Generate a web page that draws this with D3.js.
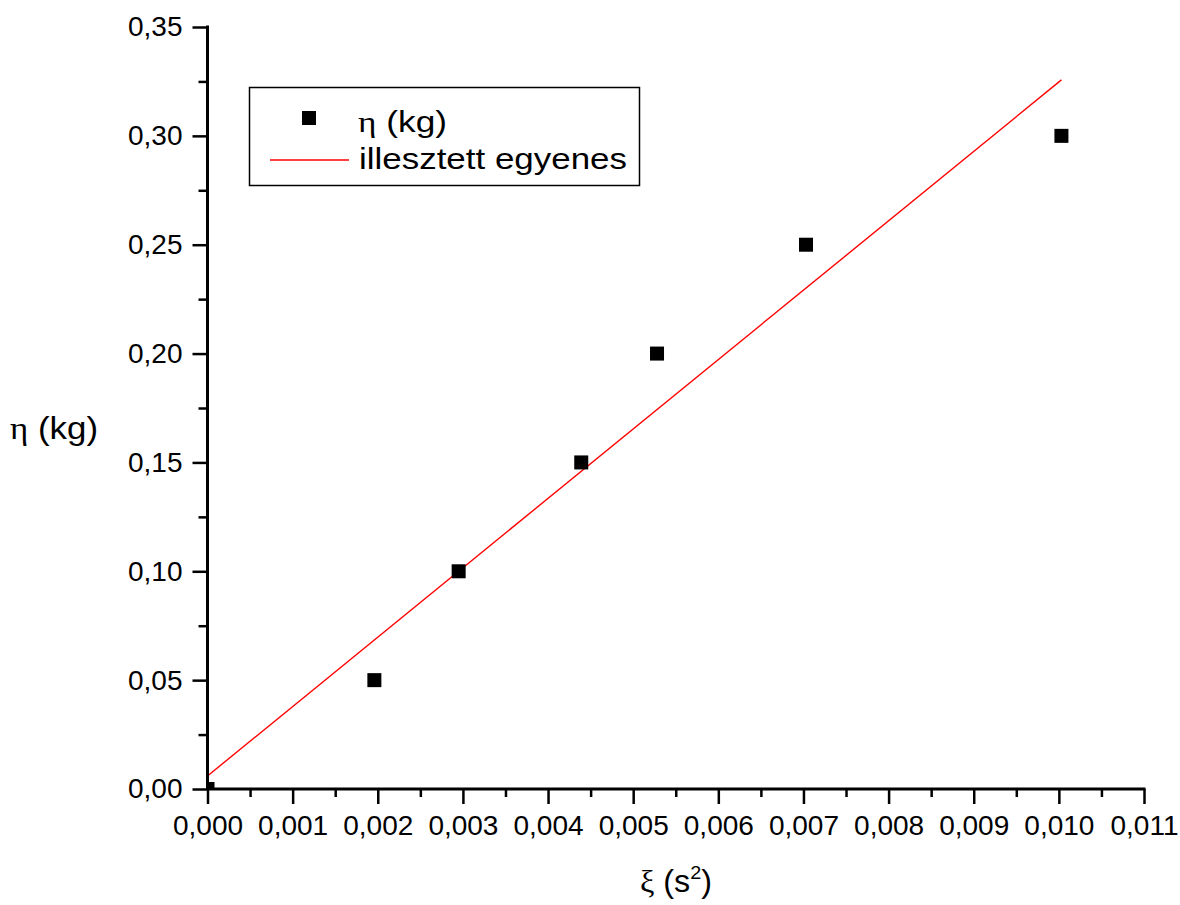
<!DOCTYPE html>
<html><head><meta charset="utf-8">
<script src="https://cdn.jsdelivr.net/npm/d3@7"></script>
<style>
body{margin:0;background:#fff;}
svg{display:block;font-family:"Liberation Sans",Arial,sans-serif;}
</style></head>
<body>
<svg id="chart" width="1180" height="905"></svg>
<script>
// Data
const xiValues  = [0, 0.00196, 0.00295, 0.00439, 0.00528, 0.00703, 0.01003];
const etaValues = [0, 0.05, 0.10, 0.15, 0.20, 0.25, 0.30];
const fitX = [0, 0.01003];
const fitY = [0.006, 0.3257];
const xMajorTicks = [0,0.001,0.002,0.003,0.004,0.005,0.006,0.007,0.008,0.009,0.010,0.011];
const yMajorTicks = [0,0.05,0.10,0.15,0.20,0.25,0.30,0.35];
const legendLabels = ["\u03b7 (kg)", "illesztett egyenes"];

const svg = d3.select("#chart");
const L = 207.5, R = 1144, T = 27, B = 789;
const x = d3.scaleLinear().domain([0, 0.011]).range([L, R]);
const y = d3.scaleLinear().domain([0, 0.35]).range([B, T]);
const fmtX = v => d3.format(".3f")(v).replace(".", ",");
const fmtY = v => d3.format(".2f")(v).replace(".", ",");

// clip
svg.append("defs").append("clipPath").attr("id","clip")
  .append("rect").attr("x",L).attr("y",T).attr("width",R-L).attr("height",B-T);

const plot = svg.append("g").attr("clip-path","url(#clip)");

// fit line
plot.append("line")
  .attr("x1", x(fitX[0])).attr("y1", y(fitY[0]))
  .attr("x2", x(fitX[1])).attr("y2", y(fitY[1]))
  .attr("stroke", "#ff0000").attr("stroke-width", 1.4);

// points
const S = 14;
plot.selectAll("rect.pt").data(xiValues.map((v,i)=>[v, etaValues[i]])).enter()
  .append("rect").attr("class","pt")
  .attr("x", d => x(d[0]) - S/2).attr("y", d => y(d[1]) - S/2)
  .attr("width", S).attr("height", S).attr("fill", "#000");

// axes
const xMinor = d3.range(0.0005, 0.011, 0.001);
const yMinor = d3.range(0.025, 0.35, 0.05);

const xAxis = d3.axisBottom(x).tickValues(xMajorTicks).tickFormat(fmtX).tickSize(15).tickPadding(11);
const gx = svg.append("g").attr("transform", `translate(0,${B})`).call(xAxis);
gx.selectAll(".tick line").attr("stroke-width", 2.5);
gx.select(".domain").attr("stroke-width", 3).attr("d", `M${L-1},0H${R+1.5}`);
gx.selectAll("text").attr("font-size", 28).attr("fill", "#000").attr("font-family", "Liberation Sans, Arial, sans-serif");
const gxm = svg.append("g").attr("transform", `translate(0,${B})`)
  .call(d3.axisBottom(x).tickValues(xMinor).tickFormat("").tickSize(8));
gxm.select(".domain").remove();
gxm.selectAll(".tick line").attr("stroke-width", 2.5);

const yAxis = d3.axisLeft(y).tickValues(yMajorTicks).tickFormat(fmtY).tickSize(15).tickPadding(10);
const gy = svg.append("g").attr("transform", `translate(${L},0)`).call(yAxis);
gy.selectAll(".tick line").attr("stroke-width", 2.5);
gy.select(".domain").attr("stroke-width", 3).attr("d", `M0,${T-1.5}V${B+1}`);
gy.selectAll("text").attr("font-size", 28).attr("fill", "#000").attr("font-family", "Liberation Sans, Arial, sans-serif");
const gym = svg.append("g").attr("transform", `translate(${L},0)`)
  .call(d3.axisLeft(y).tickValues(yMinor).tickFormat("").tickSize(9));
gym.select(".domain").remove();
gym.selectAll(".tick line").attr("stroke-width", 2.5);

// axis titles
const xt = svg.append("text").attr("x", 640).attr("y", 892).attr("font-size", 31)
  .attr("textLength", 72).attr("lengthAdjust", "spacingAndGlyphs");
xt.append("tspan").attr("font-family", "Liberation Serif, serif").text("\u03be");
xt.append("tspan").text(" (s");
xt.append("tspan").attr("font-size", 19).attr("dy", -13).text("2");
xt.append("tspan").attr("dy", 13).text(")");

const yt = svg.append("text").attr("x", 10).attr("y", 439).attr("font-size", 32)
  .attr("textLength", 88).attr("lengthAdjust", "spacingAndGlyphs");
yt.append("tspan").attr("font-family", "Liberation Serif, serif").text("\u03b7");
yt.append("tspan").text(" (kg)");

// legend
const lg = svg.append("g");
lg.append("rect").attr("x", 249.5).attr("y", 87.5).attr("width", 390).attr("height", 98)
  .attr("fill", "#fff").attr("stroke", "#000").attr("stroke-width", 1.5);
lg.append("rect").attr("x", 309 - S/2).attr("y", 118 - S/2).attr("width", S).attr("height", S).attr("fill", "#000");
const l1 = lg.append("text").attr("x", 358).attr("y", 132).attr("font-size", 30)
  .attr("textLength", 89).attr("lengthAdjust", "spacingAndGlyphs");
l1.append("tspan").attr("font-family", "Liberation Serif, serif").text(legendLabels[0].slice(0,1));
l1.append("tspan").text(legendLabels[0].slice(1));
lg.append("line").attr("x1", 270).attr("x2", 349).attr("y1", 160).attr("y2", 160)
  .attr("stroke", "#ff0000").attr("stroke-width", 1.4);
lg.append("text").attr("x", 359).attr("y", 169).attr("font-size", 30)
  .attr("textLength", 268).attr("lengthAdjust", "spacingAndGlyphs").text(legendLabels[1]);
</script>
</body></html>
